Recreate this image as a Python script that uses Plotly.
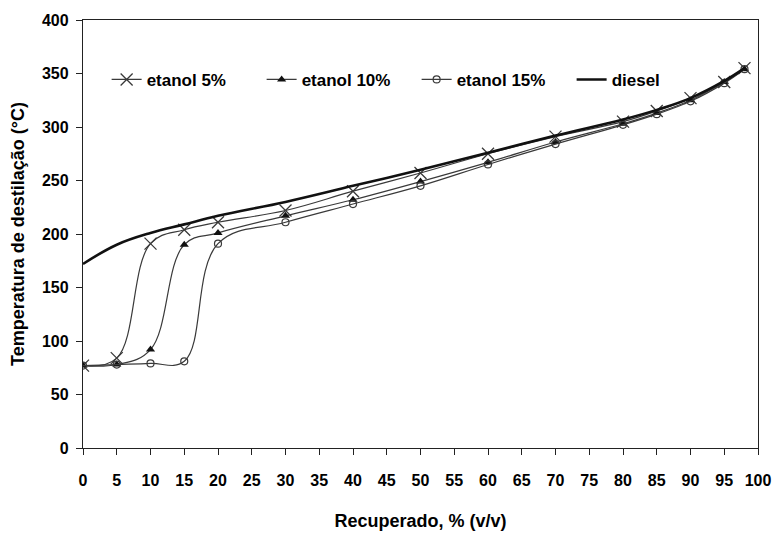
import plotly.graph_objects as go

# Distillation curves: recovered volume (%) vs distillation temperature (°C)
recuperado = [0, 5, 10, 15, 20, 30, 40, 50, 60, 70, 80, 85, 90, 95, 98]
etanol_5 = [77, 84, 191, 204, 211, 222, 240, 257, 275, 291, 305, 315, 327, 342, 355]
etanol_10 = [77, 78, 92, 190, 201, 217, 232, 249, 267, 286, 303, 313, 325, 342, 354]
etanol_15 = [77, 78, 79, 81, 191, 211, 228, 245, 265, 284, 302, 312, 324, 341, 354]
diesel = [172, 190, 201, 209, 217, 230, 245, 260, 276, 292, 307, 316, 327, 343, 355]

x_ticks = list(range(0, 101, 5))
y_ticks = list(range(0, 401, 50))

FONT = "Liberation Sans, Arial, sans-serif"
LINE = "#3a3a3a"
SMOOTH = 1.1

fig = go.Figure()

fig.add_trace(go.Scatter(
    x=recuperado, y=etanol_5, name="etanol 5%", mode="lines+markers",
    line=dict(color=LINE, width=1.2, shape="spline", smoothing=SMOOTH),
    marker=dict(symbol="x-thin-open", size=12, color=LINE,
                line=dict(color=LINE, width=1.3)),
))
fig.add_trace(go.Scatter(
    x=recuperado, y=etanol_10, name="etanol 10%", mode="lines+markers",
    line=dict(color=LINE, width=1.2, shape="spline", smoothing=SMOOTH),
    marker=dict(symbol="triangle-up", size=8, color="#111111"),
))
fig.add_trace(go.Scatter(
    x=recuperado, y=etanol_15, name="etanol 15%", mode="lines+markers",
    line=dict(color=LINE, width=1.2, shape="spline", smoothing=SMOOTH),
    marker=dict(symbol="circle-open", size=7, color=LINE,
                line=dict(color=LINE, width=1.2)),
))
fig.add_trace(go.Scatter(
    x=recuperado, y=diesel, name="diesel", mode="lines",
    line=dict(color="#111111", width=2.6, shape="spline", smoothing=SMOOTH),
))

fig.update_layout(
    width=782, height=534,
    margin=dict(l=83, r=24, t=20, b=86),
    paper_bgcolor="white", plot_bgcolor="white",
    font=dict(family=FONT, size=16, color="black", weight="bold"),
    showlegend=True,
    legend=dict(
        orientation="h", x=0.035, y=0.86, xanchor="left", yanchor="middle",
        bgcolor="rgba(0,0,0,0)", font=dict(size=17, weight="bold"),
        entrywidth=110, itemwidth=30,
    ),
    xaxis=dict(
        range=[0, 100], tickvals=x_ticks, ticktext=[str(v) for v in x_ticks],
        showgrid=False, zeroline=False, automargin=False,
        showline=True, linecolor="#222", linewidth=1.3, mirror=True,
        ticks="outside", ticklen=6, tickcolor="#222", tickwidth=1.2,
        ticklabelstandoff=12,
        tickfont=dict(size=16, weight="bold"),
        title=dict(text="Recuperado, % (v/v)", standoff=26,
                   font=dict(size=18, weight="bold")),
    ),
    yaxis=dict(
        range=[0, 400], tickvals=y_ticks, ticktext=[str(v) for v in y_ticks],
        showgrid=False, zeroline=False, automargin=False,
        showline=True, linecolor="#222", linewidth=1.3, mirror=True,
        ticks="outside", ticklen=6, tickcolor="#222", tickwidth=1.2,
        ticklabelstandoff=4,
        tickfont=dict(size=16, weight="bold"),
        title=dict(text="Temperatura de destilação (°C)", standoff=12,
                   font=dict(size=18, weight="bold")),
    ),
)

fig.write_html("out.html")
